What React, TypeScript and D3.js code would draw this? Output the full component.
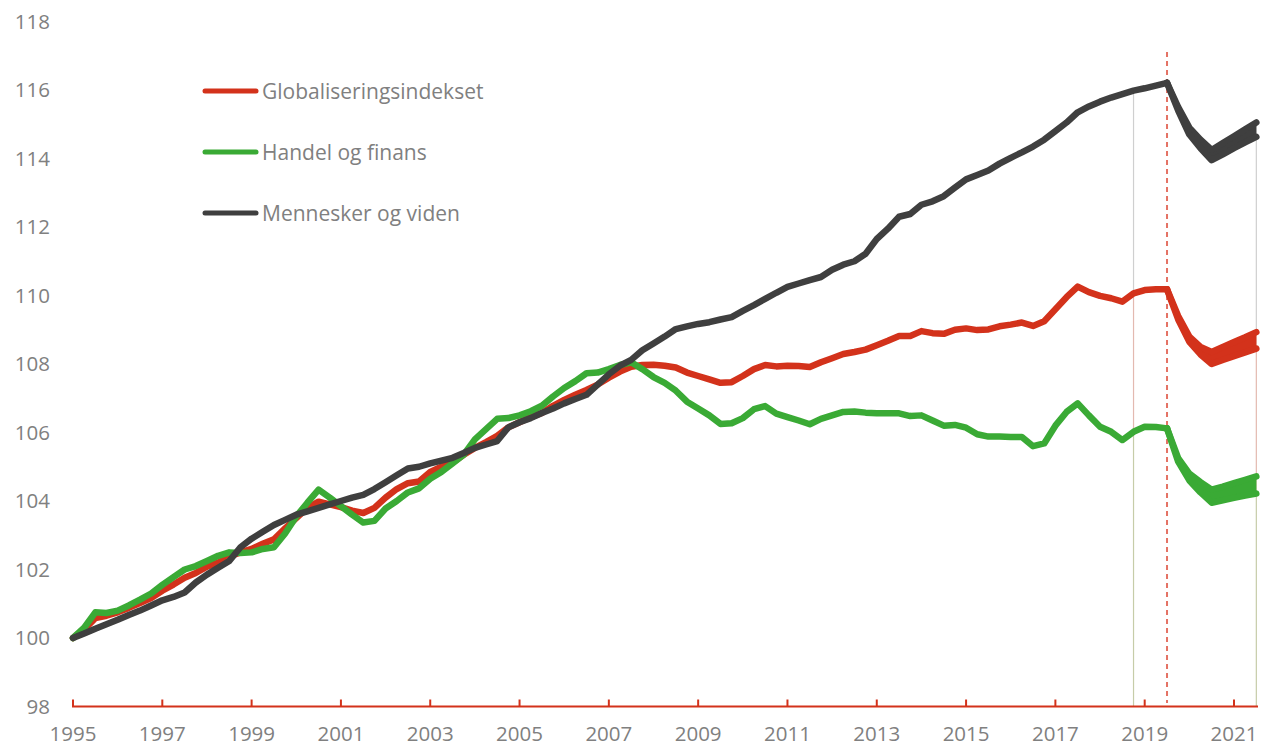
import * as d3 from "d3";

// kvartalsdata fra 1995K1, indeks 0 = 1995K1
const startYear = 1995;

const globalisering = [
  100, 100.25, 100.58, 100.65, 100.75, 100.88, 101.02, 101.17, 101.38, 101.56,
  101.76, 101.9, 102.08, 102.2, 102.38, 102.5, 102.6, 102.75, 102.88, 103.2,
  103.5, 103.8, 103.98, 103.9, 103.82, 103.72, 103.65, 103.8, 104.1, 104.35,
  104.52, 104.57, 104.85, 105.0, 105.12, 105.35, 105.55, 105.72, 105.9, 106.15,
  106.3, 106.45, 106.57, 106.78, 106.95, 107.1, 107.24, 107.4, 107.6, 107.78,
  107.92, 107.97, 107.98, 107.95, 107.9, 107.75, 107.65, 107.55, 107.45, 107.47,
  107.65, 107.85, 107.97, 107.93, 107.95, 107.94, 107.91, 108.05, 108.17, 108.29,
  108.35, 108.42, 108.55, 108.68, 108.82, 108.82, 108.96, 108.9, 108.88, 109.0,
  109.04, 108.99, 109.01, 109.1, 109.15, 109.21, 109.11, 109.25, 109.6, 109.95,
  110.26, 110.1, 109.99, 109.92, 109.82, 110.06, 110.16, 110.18, 110.18,
];

const handel = [
  100, 100.3, 100.75, 100.73, 100.8, 100.95, 101.12, 101.3, 101.55, 101.78,
  102.0, 102.1, 102.25, 102.4, 102.5, 102.48, 102.5, 102.6, 102.65, 103.05,
  103.55, 103.95, 104.33, 104.1, 103.85, 103.6, 103.37, 103.42, 103.78, 104.0,
  104.25, 104.37, 104.65, 104.85, 105.1, 105.35, 105.8, 106.1, 106.4, 106.42,
  106.5, 106.62, 106.78, 107.05, 107.3, 107.5, 107.73, 107.75, 107.85, 107.97,
  108.05, 107.85, 107.62, 107.45, 107.22, 106.9, 106.7, 106.5, 106.25, 106.27,
  106.42, 106.68, 106.77, 106.55, 106.45, 106.35, 106.24, 106.4, 106.5, 106.6,
  106.61, 106.58, 106.56, 106.56, 106.56, 106.48, 106.5, 106.35, 106.2, 106.22,
  106.14, 105.95, 105.88, 105.88, 105.87, 105.87, 105.6, 105.68, 106.2, 106.6,
  106.85, 106.5, 106.17, 106.02, 105.78, 106.02, 106.17, 106.16, 106.12,
];

const mennesker = [
  100, 100.13, 100.27, 100.4, 100.53, 100.67, 100.8, 100.95, 101.1, 101.2,
  101.33, 101.62, 101.85, 102.05, 102.25, 102.65, 102.9, 103.1, 103.3, 103.45,
  103.6, 103.7, 103.8, 103.9, 104.0, 104.1, 104.18, 104.35, 104.55, 104.75,
  104.95, 105.0, 105.1, 105.18, 105.26, 105.4, 105.55, 105.65, 105.75, 106.15,
  106.3, 106.42, 106.57, 106.7, 106.85, 106.98, 107.1, 107.4, 107.7, 107.95,
  108.12, 108.4, 108.6, 108.8, 109.02, 109.1, 109.17, 109.22, 109.3, 109.37,
  109.55, 109.72, 109.9, 110.08, 110.25, 110.35, 110.45, 110.54, 110.75, 110.9,
  111.0, 111.22, 111.65, 111.95, 112.3, 112.38, 112.65, 112.75, 112.9, 113.15,
  113.39, 113.52, 113.65, 113.85, 114.02, 114.18, 114.35, 114.55, 114.8, 115.05,
  115.35, 115.52, 115.66, 115.78, 115.88, 115.98, 116.05, 116.13, 116.21,
];

// framskrivning fra 2019K3 (indeks 98) til 2021K3 (indeks 106)
const fanStart = 98;
const globHigh = [110.18, 109.4, 108.8, 108.5, 108.35, 108.5, 108.64, 108.78, 108.93];
const globLow = [110.18, 109.3, 108.65, 108.28, 108.0, 108.12, 108.23, 108.34, 108.45];
const handelHigh = [106.12, 105.25, 104.8, 104.55, 104.33, 104.42, 104.52, 104.62, 104.72];
const handelLow = [106.12, 105.15, 104.6, 104.25, 103.95, 104.02, 104.09, 104.16, 104.22];
const mennHigh = [116.21, 115.5, 114.9, 114.55, 114.25, 114.45, 114.65, 114.85, 115.05];
const mennLow = [116.21, 115.4, 114.7, 114.3, 113.95, 114.12, 114.3, 114.47, 114.63];

const yTicks = [98, 100, 102, 104, 106, 108, 110, 112, 114, 116, 118];
const xTicks = [1995, 1997, 1999, 2001, 2003, 2005, 2007, 2009, 2011, 2013, 2015, 2017, 2019, 2021];
const dropIdx = [95, 106];

const RED = "#d3321b";
const GREEN = "#3aaa35";
const DARK = "#3f3f3f";
const TEXT = "#808080";

const series = [
  { name: "Globaliseringsindekset", color: RED, values: globalisering, high: globHigh, low: globLow },
  { name: "Handel og finans", color: GREEN, values: handel, high: handelHigh, low: handelLow },
  { name: "Mennesker og viden", color: DARK, values: mennesker, high: mennHigh, low: mennLow },
];

const W = 1266;
const H = 747;
const FONT = "'Open Sans', sans-serif";

export default function App() {
  const x = d3.scaleLinear().domain([1995, 2021]).range([73, 1234]);
  const y = d3.scaleLinear().domain([98, 118]).range([706.5, 21.5]);
  const qx = (i: number) => x(startYear + i / 4);

  const line = d3.line<number>()
    .x((_, i) => qx(i))
    .y(d => y(d));

  const fanLine = d3.line<number>()
    .x((_, i) => qx(fanStart + i))
    .y(d => y(d));

  const fanArea = (hi: number[], lo: number[]) =>
    d3.area<number>()
      .x((_, i) => qx(fanStart + i))
      .y0((_, i) => y(lo[i]))
      .y1(d => y(d))(hi);

  // verdier i slippunktene for fallinjene
  const valAt = (s: typeof series[0], i: number) =>
    i <= fanStart ? s.values[i] : s.high[i - fanStart];

  const dropColors = ["#cfcfcf", "#e3b9b0", "#c6cca8"];

  return (
    <svg width={W} height={H} style={{ position: "absolute", left: 0, top: 0, background: "#fff" }}>
      {/* fallinjer */}
      {dropIdx.map(i => {
        const yb = y(valAt(series[2], i));
        const yr = y(valAt(series[0], i));
        const yg = y(valAt(series[1], i));
        return (
          <g key={i}>
            <line x1={qx(i)} x2={qx(i)} y1={yb} y2={yr} stroke={dropColors[0]} strokeWidth={1.2} />
            <line x1={qx(i)} x2={qx(i)} y1={yr} y2={yg} stroke={dropColors[1]} strokeWidth={1.2} />
            <line x1={qx(i)} x2={qx(i)} y1={yg} y2={y(98)} stroke={dropColors[2]} strokeWidth={1.2} />
          </g>
        );
      })}

      {/* stiplet linje ved siste observasjon */}
      <line x1={qx(fanStart)} x2={qx(fanStart)} y1={52} y2={703}
        stroke="#e05a4a" strokeWidth={2} strokeDasharray="5 4" opacity={0.85} />

      {/* y-akse etiketter */}
      {yTicks.map(t => (
        <text key={t} x={50} y={y(t)} dy="0.35em" textAnchor="end"
          fontFamily={FONT} fontSize={20.5} fill={TEXT}>{t}</text>
      ))}

      {/* x-akse */}
      <line x1={72} x2={1258} y1={y(98)} y2={y(98)} stroke={RED} strokeWidth={2} />
      {xTicks.map(t => (
        <g key={t}>
          <line x1={x(t)} x2={x(t)} y1={y(98) - 7} y2={y(98)} stroke={RED} strokeWidth={2} />
          <text x={x(t)} y={741} textAnchor="middle" fontFamily={FONT} fontSize={20.5} fill={TEXT}>{t}</text>
        </g>
      ))}

      {/* serier */}
      {series.map(s => (
        <g key={s.name}>
          <path d={fanArea(s.high, s.low) || ""} fill={s.color} />
          <path d={fanLine(s.high) || ""} fill="none" stroke={s.color} strokeWidth={6.5}
            strokeLinejoin="round" strokeLinecap="round" />
          <path d={fanLine(s.low) || ""} fill="none" stroke={s.color} strokeWidth={6.5}
            strokeLinejoin="round" strokeLinecap="round" />
          <path d={line(s.values) || ""} fill="none" stroke={s.color} strokeWidth={6.5}
            strokeLinejoin="round" strokeLinecap="round" />
        </g>
      ))}

      {/* tegnforklaring */}
      {series.map((s, i) => (
        <g key={s.name} transform={`translate(0, ${91 + i * 61})`}>
          <line x1={205} x2={256} y1={0} y2={0} stroke={s.color} strokeWidth={5} strokeLinecap="round" />
          <text x={262} y={7.5} fontFamily={FONT} fontSize={21} fill={TEXT}>{s.name}</text>
        </g>
      ))}
    </svg>
  );
}
